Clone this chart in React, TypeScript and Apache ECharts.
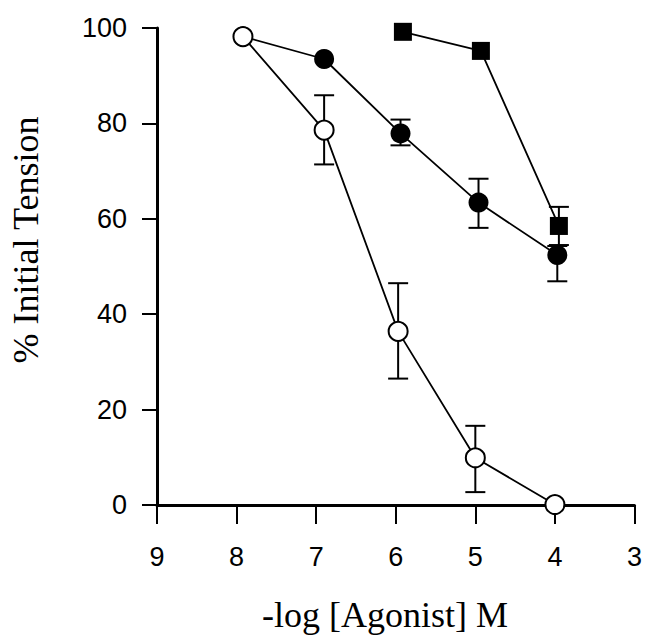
import React, { useEffect, useRef } from "react";
import * as echarts from "echarts";

const xTicks = [9, 8, 7, 6, 5, 4, 3];
const yTicks = [0, 20, 40, 60, 80, 100];

const openX = [7.92, 6.9, 5.97, 5.0, 4.0];
const openY = [98.2, 78.6, 36.4, 9.9, 0.1];
const openLow = [null, 71.4, 26.5, 2.7, null];
const openHigh = [null, 85.9, 46.5, 16.6, null];

const filledX = [7.92, 6.9, 5.94, 4.96, 3.97];
const filledY = [98.2, 93.5, 77.9, 63.4, 52.4];
const filledLow = [null, null, 75.4, 58.1, 46.9];
const filledHigh = [null, null, 80.8, 68.4, 54.3];

const squareX = [5.91, 4.93, 3.95];
const squareY = [99.2, 95.2, 58.5];
const squareLow = [null, null, 54.5];
const squareHigh = [null, null, 62.5];

const xTitle = "-log [Agonist] M";
const yTitle = "% Initial Tension";

function pairs(xs: number[], ys: number[]) {
  return xs.map((x, i) => [x, ys[i]]);
}

function errs(xs: number[], lo: (number | null)[], hi: (number | null)[]) {
  const out: number[][] = [];
  xs.forEach((x, i) => {
    if (lo[i] != null && hi[i] != null) out.push([x, lo[i] as number, hi[i] as number]);
  });
  return out;
}

export default function App() {
  const ref = useRef<HTMLDivElement>(null);
  useEffect(() => {
    if (!ref.current) return;
    const chart = echarts.init(ref.current, null, { renderer: "svg" });
    const errData = [
      ...errs(openX, openLow, openHigh),
      ...errs(filledX, filledLow, filledHigh),
      ...errs(squareX, squareLow, squareHigh),
    ];
    const cap = 10;
    const option: any = {
      animation: false,
      backgroundColor: "#ffffff",
      grid: { left: 157, right: 8, top: 28, bottom: 135, containLabel: false },
      xAxis: {
        type: "value",
        min: 3,
        max: 9,
        interval: 1,
        inverse: true,
        axisLine: { show: true, lineStyle: { color: "#000", width: 3 } },
        axisTick: { show: true, length: 19, lineStyle: { color: "#000", width: 2 } },
        axisLabel: {
          color: "#000",
          fontFamily: "Liberation Sans",
          fontSize: 27,
          margin: 38,
          formatter: (v: number) => (xTicks.includes(v) ? String(v) : ""),
        },
        splitLine: { show: false },
      },
      yAxis: {
        type: "value",
        min: 0,
        max: 100,
        interval: 20,
        axisLine: { show: true, lineStyle: { color: "#000", width: 3 } },
        axisTick: { show: true, length: 15, lineStyle: { color: "#000", width: 2 } },
        axisLabel: {
          color: "#000",
          fontFamily: "Liberation Sans",
          fontSize: 27,
          margin: 30,
          formatter: (v: number) => (yTicks.includes(v) ? String(v) : ""),
        },
        splitLine: { show: false },
      },
      graphic: [
        {
          type: "text",
          x: 385,
          y: 615,
          style: {
            text: xTitle,
            fill: "#000",
            font: '36px "Liberation Serif"',
            textAlign: "center",
            textVerticalAlign: "middle",
          },
        },
        {
          type: "text",
          x: 26,
          y: 240,
          rotation: Math.PI / 2,
          style: {
            text: yTitle,
            fill: "#000",
            font: '36px "Liberation Serif"',
            textAlign: "center",
            textVerticalAlign: "middle",
          },
        },
      ],
      series: [
        {
          type: "custom",
          z: 1,
          data: errData,
          renderItem: (params: any, api: any) => {
            const x = api.value(0);
            const lo = api.coord([x, api.value(1)]);
            const hi = api.coord([x, api.value(2)]);
            const st = { stroke: "#000", lineWidth: 2 };
            return {
              type: "group",
              children: [
                { type: "line", shape: { x1: lo[0], y1: lo[1], x2: hi[0], y2: hi[1] }, style: st },
                { type: "line", shape: { x1: lo[0] - cap, y1: lo[1], x2: lo[0] + cap, y2: lo[1] }, style: st },
                { type: "line", shape: { x1: hi[0] - cap, y1: hi[1], x2: hi[0] + cap, y2: hi[1] }, style: st },
              ],
            };
          },
        },
        {
          type: "line",
          z: 2,
          data: pairs(filledX, filledY),
          symbol: "circle",
          symbolSize: 20,
          showAllSymbol: true,
          lineStyle: { color: "#000", width: 1.8 },
          itemStyle: { color: "#000", borderColor: "#000", borderWidth: 0 },
        },
        {
          type: "line",
          z: 3,
          data: pairs(squareX, squareY),
          symbol: "rect",
          symbolSize: 18,
          showAllSymbol: true,
          lineStyle: { color: "#000", width: 1.8 },
          itemStyle: { color: "#000", borderColor: "#000", borderWidth: 0 },
        },
        {
          type: "line",
          z: 4,
          data: pairs(openX, openY),
          symbol: "circle",
          symbolSize: 19,
          showAllSymbol: true,
          lineStyle: { color: "#000", width: 1.8 },
          itemStyle: { color: "#fff", borderColor: "#000", borderWidth: 2 },
        },
      ],
    };
    chart.setOption(option);
    return () => chart.dispose();
  }, []);
  return (
    <div
      ref={ref}
      style={{ position: "fixed", left: 0, top: 0, width: 645, height: 640 }}
    />
  );
}
